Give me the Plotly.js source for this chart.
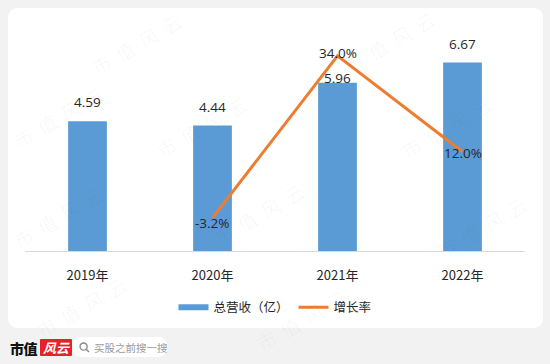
<!DOCTYPE html>
<html>
<head>
<meta charset="utf-8">
<script src="https://cdn.plot.ly/plotly-3.0.1.min.js"></script>
<style>
  html, body { margin:0; padding:0; }
  body { width:550px; height:364px; background:#f2f2f2; position:relative; overflow:hidden;
         font-family:"Noto Sans CJK SC","Microsoft YaHei",sans-serif; }
  #panel { position:absolute; left:8px; top:8px; width:535px; height:320px; background:#ffffff; border-radius:9px; }
  #chart { position:absolute; left:0; top:0; width:550px; height:364px; }
  .wm { position:absolute; font-size:19px; letter-spacing:8px; color:rgba(0,0,0,0.05); white-space:nowrap;
        transform:translate(-50%,-50%) rotate(-30deg); pointer-events:none; font-family:"Noto Sans CJK SC",sans-serif; font-weight:300; }
  #logo { position:absolute; left:10px; top:338px; height:19px; display:flex; align-items:center; }
  #logo .a { font-family:"Noto Sans CJK SC",serif; font-weight:900; font-size:14px; color:#111; letter-spacing:-0.5px; }
  #logo .b { margin-left:3px; background:#e62129; color:#fff; font-size:13px; font-style:italic; font-weight:700;
             padding:0 3px; height:17px; line-height:17px; border-radius:1px; }
  #search { position:absolute; left:72px; top:337px; width:96px; height:20px; background:#fff; border-radius:10px;
            display:flex; align-items:center; font-size:10.5px; color:#9a9a9a; }
  #search svg { margin-left:7px; margin-right:4px; }
</style>
</head>
<body>
<div id="panel"></div>
<div id="chart"></div>
<div id="logo"><span class="a">市值</span><span class="b">风云</span></div>
<div id="search"><svg width="11" height="11" viewBox="0 0 11 11"><circle cx="4.6" cy="4.6" r="3.6" fill="none" stroke="#8a8a8a" stroke-width="1.3"/><line x1="7.3" y1="7.3" x2="10" y2="10" stroke="#8a8a8a" stroke-width="1.4"/></svg>买股之前搜一搜</div>
<script>
var categories = ["2019年", "2020年", "2021年", "2022年"];
var revenue = [4.59, 4.44, 5.96, 6.67];
var growth = [null, -3.2, 34.0, 12.0];
var revenueName = "总营收（亿）";
var growthName = "增长率";

var barColor = "#5b9bd5";
var lineColor = "#ed7d31";
var textColor = "#262626";
var numFont = "Segoe UI, 'Open Sans', 'Noto Sans CJK SC', sans-serif";

var bars = {
  type: "bar", name: revenueName, x: categories, y: revenue, showlegend: false,
  marker: { color: barColor }, width: 0.31, hoverinfo: "skip"
};
// legend swatch for the bars (wide flat rectangle like the original)
var barLegend = {
  type: "scatter", mode: "lines", name: revenueName, x: [null], y: [null],
  line: { color: barColor, width: 6 }, showlegend: true, hoverinfo: "skip"
};
var line = {
  type: "scatter", mode: "lines", name: growthName, x: categories, y: growth,
  yaxis: "y2", line: { color: lineColor, width: 3 },
  connectgaps: false, hoverinfo: "skip", cliponaxis: false
};

var annotations = revenue.map(function(v, i){
  return { x: categories[i], y: v, xref: "x", yref: "y", text: v.toFixed(2),
           showarrow: false, yanchor: "bottom", yshift: (i === 2 ? -6 : 8),
           font: { family: numFont, size: 13.5, color: textColor } };
});
growth.forEach(function(v, i){
  if (v === null) return;
  annotations.push({ x: categories[i], y: v, xref: "x", yref: "y2", text: v.toFixed(1) + "%",
    showarrow: false, yanchor: "middle", yshift: (i === 1 ? -5 : (i === 2 ? 3 : -1)),
    font: { family: numFont, size: 13.5, color: textColor } });
});

var layout = {
  width: 550, height: 364,
  margin: { l: 25, r: 25, t: 25, b: 113 },
  paper_bgcolor: "rgba(0,0,0,0)", plot_bgcolor: "rgba(0,0,0,0)",
  showlegend: true,
  legend: { orientation: "h", x: 0.5, xanchor: "center", y: -0.25, yanchor: "middle",
            font: { family: "'Noto Sans CJK SC', sans-serif", size: 12.5, color: textColor },
            itemwidth: 30, traceorder: "normal", bgcolor: "rgba(0,0,0,0)" },
  xaxis: { type: "category", showline: true, linecolor: "#d9d9d9", linewidth: 1,
           ticks: "", ticklabelstandoff: 12, showgrid: false, zeroline: false,
           tickfont: { family: "'Noto Sans CJK SC', sans-serif", size: 13, color: textColor },
           fixedrange: true },
  yaxis: { range: [0, 8], visible: false, showgrid: false, zeroline: false, fixedrange: true },
  yaxis2: { range: [-10.8, 41.1], overlaying: "y", side: "right", visible: false, showgrid: false, zeroline: false, fixedrange: true },
  annotations: annotations
};

Plotly.newPlot("chart", [bars, barLegend, line], layout, { displayModeBar: false, staticPlot: true });

var marks = [[140,42],[393,40],[450,125],[262,212],[205,125],[485,225],[85,305],[305,318],[62,215],[62,115]];
marks.forEach(function(p){
  var d = document.createElement("div");
  d.className = "wm";
  d.textContent = "市值风云";
  d.style.left = p[0] + "px";
  d.style.top = p[1] + "px";
  document.body.appendChild(d);
});
</script>
</body>
</html>
